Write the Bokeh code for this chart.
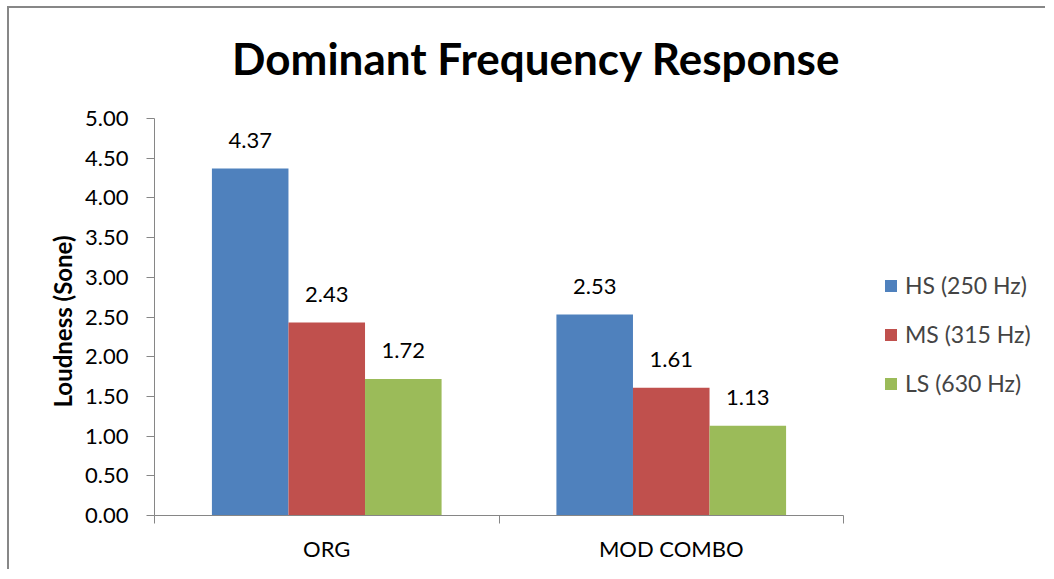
from bokeh.plotting import figure
from bokeh.models import (Range1d, FixedTicker, NumeralTickFormatter, ColumnDataSource,
                          LabelSet, Label, Legend, LegendItem, Title)
from bokeh.transform import dodge
from bokeh.core.properties import value
from bokeh.embed import file_html
from bokeh.resources import INLINE

# ---------------- data ----------------
categories = ["ORG", "MOD COMBO"]
series_names = ["HS (250 Hz)", "MS (315 Hz)", "LS (630 Hz)"]
hs = [4.37, 2.53]
ms = [2.43, 1.61]
ls = [1.72, 1.13]
y_ticks = [0.0, 0.5, 1.0, 1.5, 2.0, 2.5, 3.0, 3.5, 4.0, 4.5, 5.0]
y_max = 5.0
title_text = "Dominant Frequency Response"
y_label = "Loudness (Sone)"

# ---------------- style / layout ----------------
colors = ["#4F81BD", "#C0504D", "#9BBB59"]
FONT = "Lato"
AXIS_COLOR = "#868686"

W, H = 1038, 563
LEFT, BOTTOM = 145, 56           # frame offsets inside the canvas (px)
AXIS_PX_X = 689                  # pixel length of the category axis
AXIS_PX_Y = 397                  # pixel length of the value axis (0 .. y_max)

n = len(categories)
xc = [i + 0.5 for i in range(n)]
bounds = [float(i) for i in range(n + 1)]
bar_w = 1 / 4.5
offsets = [-bar_w, 0.0, bar_w]
keys = ["hs", "ms", "ls"]
values = [hs, ms, ls]

frame_w = W - LEFT
frame_h = H - BOTTOM
x_end = n * frame_w / AXIS_PX_X
y_end = y_max * frame_h / AXIS_PX_Y
px_per_x = AXIS_PX_X / n
px_per_y = AXIS_PX_Y / y_max

data = dict(xc=xc)
for k, v in zip(keys, values):
    data[k] = v
    data[k + "_t"] = [f"{x:.2f}" for x in v]
src = ColumnDataSource(data)

p = figure(width=W, height=H, x_range=Range1d(0, x_end), y_range=Range1d(0, y_end),
           output_backend="svg", toolbar_location=None,
           min_border_left=LEFT, min_border_right=0, min_border_top=0, min_border_bottom=BOTTOM)
p.styles = {"margin-left": "7px", "margin-top": "6px",
            "border-left": "2px solid #878787", "border-top": "2px solid #878787"}
p.grid.visible = False
p.outline_line_color = None
p.background_fill_color = "white"
p.border_fill_color = "white"

items = []
for k, off, c, name in zip(keys, offsets, colors, series_names):
    r = p.vbar(x=dodge("xc", off), top=k, width=bar_w, source=src,
               fill_color=c, line_color=None)
    items.append(LegendItem(label=name, renderers=[r]))
    p.add_layout(LabelSet(x=dodge("xc", off), y=k, text=k + "_t", source=src,
                          y_offset=21, text_align="center", text_baseline="alphabetic",
                          text_font=value(FONT), text_font_size="22px", text_color="black"))

# y axis
p.yaxis.bounds = (0, y_max)
p.yaxis.ticker = FixedTicker(ticks=y_ticks)
p.yaxis.formatter = NumeralTickFormatter(format="0.00")
p.yaxis.minor_tick_line_color = None
p.yaxis.major_tick_in = 0
p.yaxis.major_tick_out = 8
p.yaxis.major_tick_line_color = AXIS_COLOR
p.yaxis.axis_line_color = AXIS_COLOR
p.yaxis.major_label_text_font = FONT
p.yaxis.major_label_text_font_size = "22px"
p.yaxis.major_label_text_color = "black"
p.yaxis.major_label_standoff = 18

# y-axis title, centred on the value axis rather than the whole frame
p.add_layout(Title(text=y_label, align="left", offset=108, standoff=12,
                   text_font=FONT, text_font_size="24px", text_font_style="bold",
                   text_color="black"), "left")

# x axis
p.xaxis.bounds = (0, n)
p.xaxis.ticker = FixedTicker(ticks=xc, minor_ticks=bounds)
p.xaxis.major_label_overrides = {x: c for x, c in zip(xc, categories)}
p.xaxis.major_tick_line_color = None
p.xaxis.minor_tick_line_color = AXIS_COLOR
p.xaxis.minor_tick_in = 0
p.xaxis.minor_tick_out = 8
p.xaxis.axis_line_color = AXIS_COLOR
p.xaxis.major_label_text_font = FONT
p.xaxis.major_label_text_font_size = "22px"
p.xaxis.major_label_text_color = "black"
p.xaxis.major_label_standoff = 11

# chart title (placed in the open area above the value axis)
p.add_layout(Label(x=381.8 / px_per_x, y=458.0 / px_per_y, text=title_text,
                   text_align="center", text_baseline="alphabetic", text_font=FONT,
                   text_font_size="44px", text_font_style="bold", text_color="black"))

legend = Legend(items=items, location=(729, 118), padding=0, margin=0, spacing=21,
                glyph_width=15, glyph_height=15, label_height=27, label_standoff=7,
                label_text_font=FONT, label_text_font_size="23px",
                border_line_color=None, background_fill_alpha=0)
p.add_layout(legend)

open("out.html", "w").write(file_html(p, INLINE))
